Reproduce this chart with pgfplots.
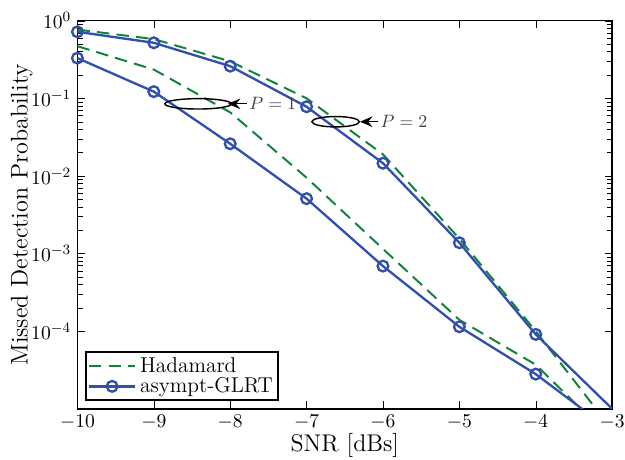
\documentclass[border=0pt]{standalone}
\usepackage{pgfplots}
\pgfplotsset{compat=1.18}
\usetikzlibrary{arrows.meta}
\definecolor{mblue}{rgb}{0.20,0.31,0.68}
\definecolor{mgreen}{rgb}{0.05,0.52,0.22}
\begin{document}
\begin{tikzpicture}
\begin{axis}[scale only axis, width=299pt, height=217pt,
  clip bounding box=upper bound,
  ymode=log, xmin=-10, xmax=-3, ymin=1e-5, ymax=1,
  xtick={-10,-9,...,-3}, ytick={1e-4,1e-3,1e-2,1e-1,1},
  tick label style={font=\fontsize{11}{13}\selectfont},
  label style={font=\fontsize{13.5}{16}\selectfont},
  xlabel={SNR [dBs]}, ylabel={Missed Detection Probability},
  xlabel style={at={(axis description cs:0.5,-0.094)}, anchor=center},
  ylabel style={at={(axis description cs:-0.104,0.5)}, anchor=center},
  axis line style={line width=0.8pt}, tick style={black},
  legend style={at={(0.015,0.02)}, anchor=south west, line width=0.9pt,
    inner sep=0.8pt, row sep=-2.5pt, font=\large},
  legend cell align=left]
\addplot[mgreen, line width=1.1pt, dash pattern=on 7pt off 4pt,
  legend image code/.code={\draw[mgreen, line width=1.1pt, dash pattern=on 7pt off 4pt] (0pt,0pt) -- (26pt,0pt);}] coordinates {
  (-10,0.47) (-9,0.235) (-8,0.066) (-7,0.0095) (-6,1.15e-3) (-5,1.4e-4) (-4,3.7e-5) (-3,4e-6)};
\addlegendentry{Hadamard}
\addplot[mblue, line width=1.3pt, mark=o, mark size=3pt, mark indices={1,2,3,4,5,6,7},
  legend image code/.code={\draw[mblue, line width=1.3pt] (0pt,0pt) -- (26pt,0pt);
    \draw[mblue, line width=1.3pt] (13pt,0pt) circle (3pt);}] coordinates {
  (-10,0.33) (-9,0.122) (-8,0.026) (-7,5.1e-3) (-6,6.9e-4) (-5,1.14e-4) (-4,2.8e-5) (-3,5.1e-6)};
\addlegendentry{asympt-GLRT}
\addplot[mgreen, line width=1.1pt, dash pattern=on 7pt off 4pt, forget plot] coordinates {
  (-10,0.77) (-9,0.58) (-8,0.30) (-7,0.10) (-6,0.019) (-5,1.56e-3) (-4,1.0e-4) (-3,5.4e-6)};
\addplot[mblue, line width=1.3pt, mark=o, mark size=3pt, mark indices={1,2,3,4,5,6,7}, forget plot] coordinates {
  (-10,0.72) (-9,0.52) (-8,0.26) (-7,0.078) (-6,0.0146) (-5,1.38e-3) (-4,9.1e-5) (-3,1.0e-5)};
\draw[line width=0.8pt] (axis cs:-8.42,0.085) ellipse [x radius=18.6pt, y radius=2.9pt];
\draw[line width=0.6pt, -{Stealth[length=7pt, width=6pt, inset=2.5pt]}] (axis cs:-7.78,0.085) -- (axis cs:-8.03,0.085)
  node[pos=0, right, inner sep=1pt, font=\normalsize, black!75] {$P=1$};
\draw[line width=0.8pt] (axis cs:-6.62,0.05) ellipse [x radius=13.3pt, y radius=2.9pt];
\draw[line width=0.6pt, -{Stealth[length=7pt, width=6pt, inset=2.5pt]}] (axis cs:-6.06,0.05) -- (axis cs:-6.30,0.05)
  node[pos=0, right, inner sep=1pt, font=\normalsize, black!75] {$P=2$};
\coordinate (sw) at (rel axis cs:0,0);
\coordinate (ne) at (rel axis cs:1,1);
\end{axis}
\pgfresetboundingbox
\path ([shift={(-43.3pt,-28.5pt)}]sw) rectangle ([shift={(7.2pt,11.6pt)}]ne);
\end{tikzpicture}
\end{document}
